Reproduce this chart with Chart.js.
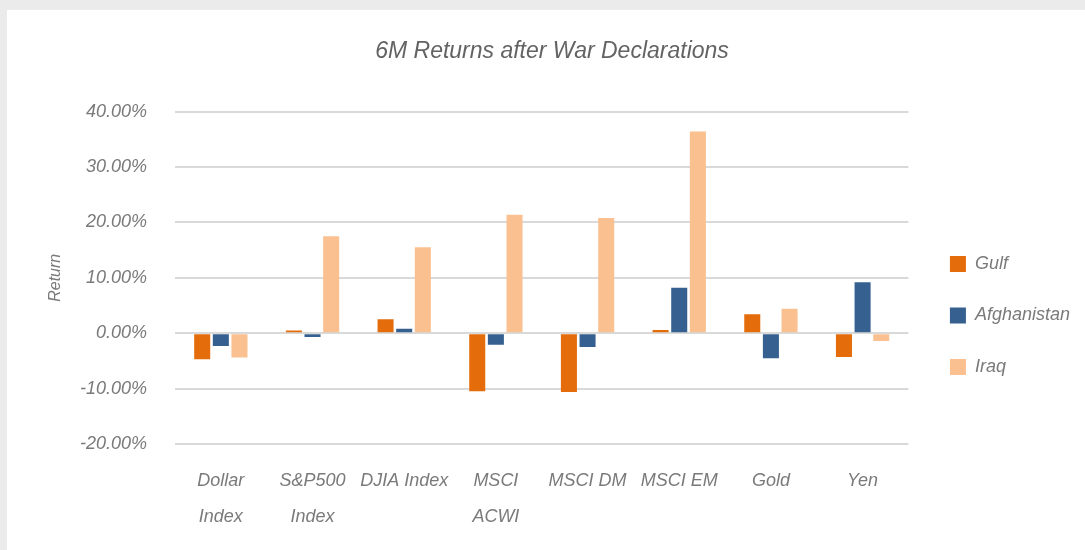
<!DOCTYPE html>
<html>
<head>
<meta http-equiv="Content-Type" content="text/html;charset=utf-8" />
<script src="https://cdn.jsdelivr.net/npm/chart.js@4"></script>
<style>
  body { margin: 0; background: #ebebeb; }
  #panel { position: absolute; left: 7px; top: 10px; width: 1078px; height: 540px; background: #fff; }
</style>
</head>
<body>
<div id="panel"><canvas id="returns" width="1078" height="540"></canvas></div>
<script>
// categories, two-line labels where the original wraps
var categories = [['Dollar', 'Index'], ['S&P500', 'Index'], 'DJIA Index', ['MSCI', 'ACWI'], 'MSCI DM', 'MSCI EM', 'Gold', 'Yen'];
// 6 month returns, in percent
var gulf        = [-4.7, 0.5, 2.5, -10.5, -10.6, 0.6, 3.4, -4.3];
var afghanistan = [-2.3, -0.7, 0.8, -2.1, -2.5, 8.2, -4.5, 9.2];
var iraq        = [-4.4, 17.5, 15.5, 21.4, 20.8, 36.4, 4.4, -1.4];
var yTicks = [-20, -10, 0, 10, 20, 30, 40];

var fam = "'Liberation Sans', Arial, sans-serif";
var grey = '#7a7a7a';

// nudge the legend a bit further away from the plot
var legendShift = {
  id: 'legendShift',
  afterLayout: function (chart) {
    chart.legend.left += 8;
    chart.legend.right += 8;
  }
};

var ctx = document.getElementById('returns').getContext('2d');
var chart = new Chart(ctx, {
  type: 'bar',
  data: {
    labels: categories,
    datasets: [
      { label: 'Gulf', data: gulf, backgroundColor: '#e46c0a' },
      { label: 'Afghanistan', data: afghanistan, backgroundColor: '#35608f' },
      { label: 'Iraq', data: iraq, backgroundColor: '#fac090' }
    ]
  },
  plugins: [legendShift],
  options: {
    responsive: false,
    animation: false,
    categoryPercentage: 0.61,
    barPercentage: 0.86,
    layout: { padding: { left: 25, right: 13, top: 0, bottom: 0 } },
    plugins: {
      title: {
        display: true,
        text: '6M Returns after War Declarations',
        color: '#636363',
        font: { family: fam, size: 23, style: 'italic', weight: 'normal' },
        padding: { top: 28, bottom: 46 }
      },
      legend: {
        position: 'right',
        title: { display: true, text: ' ', padding: 27, font: { size: 14 } },
        labels: {
          boxWidth: 16,
          boxHeight: 16,
          padding: 33.5,
          color: grey,
          font: { family: fam, size: 18, style: 'italic' }
        }
      },
      tooltip: { enabled: false }
    },
    scales: {
      x: {
        grid: { display: false },
        border: { display: false },
        afterFit: function (scale) { scale.height = 106; },
        ticks: {
          color: grey,
          maxRotation: 0,
          autoSkip: false,
          padding: 11,
          font: { family: fam, size: 18, style: 'italic', lineHeight: 2.0 }
        }
      },
      y: {
        min: yTicks[0],
        max: yTicks[yTicks.length - 1],
        afterBuildTicks: function (axis) {
          axis.ticks = yTicks.map(function (v) { return { value: v }; });
        },
        afterFit: function (scale) { scale.width = 143; },
        grid: { color: '#d9d9d9', lineWidth: 2, drawTicks: false },
        border: { display: false },
        ticks: {
          color: grey,
          padding: 28,
          font: { family: fam, size: 18, style: 'italic' },
          callback: function (v) { return v.toFixed(2) + '%'; }
        },
        title: {
          display: true,
          text: 'Return',
          color: grey,
          padding: { top: 14, bottom: 0 },
          font: { family: fam, size: 16, style: 'italic' }
        }
      }
    }
  }
});
</script>
</body>
</html>
